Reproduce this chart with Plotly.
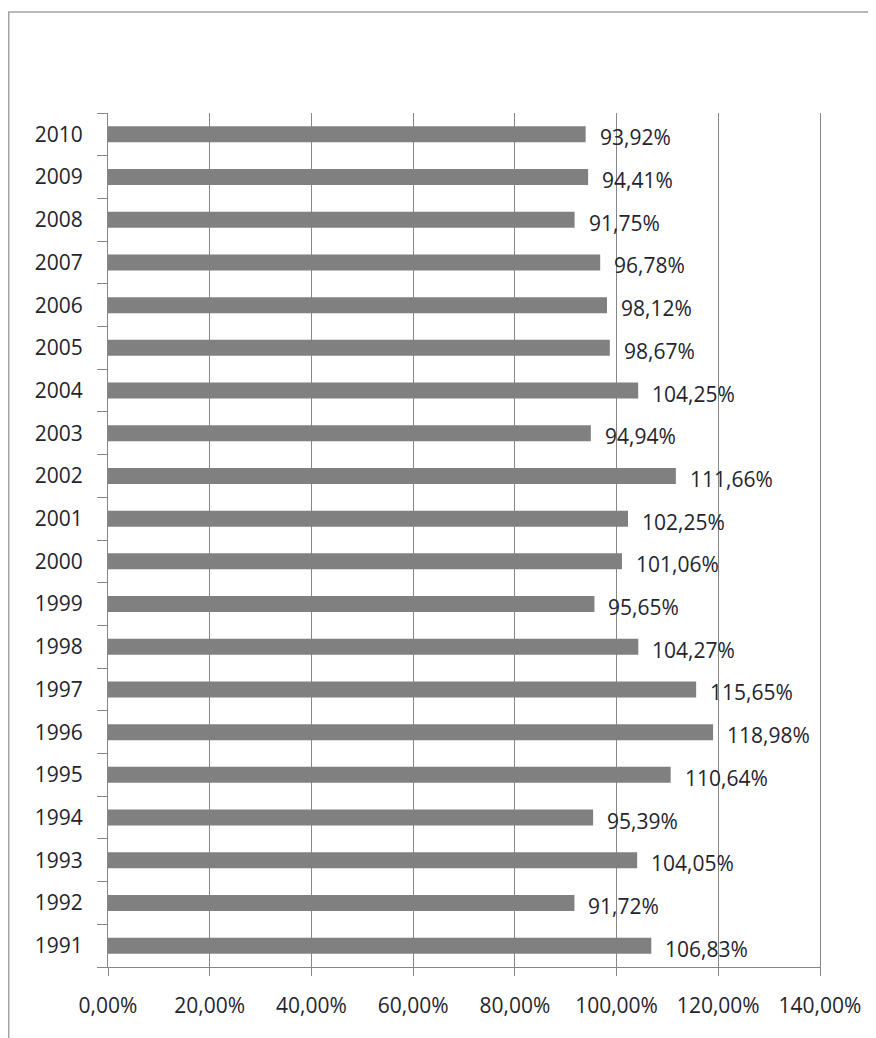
import plotly.graph_objects as go

years = [str(y) for y in range(1991, 2011)]
values = [106.83, 91.72, 104.05, 95.39, 110.64, 118.98, 115.65, 104.27, 95.65, 101.06,
          102.25, 111.66, 94.94, 104.25, 98.67, 98.12, 96.78, 91.75, 94.41, 93.92]
x_ticks = [0, 20, 40, 60, 80, 100, 120, 140]

labels = [f"{v:.2f}%".replace(".", ",") for v in values]
x_tick_text = [f"{t:.2f}%".replace(".", ",") for t in x_ticks]

FONT = "Open Sans"
FS = 21
TXT = "#24242e"
GRID = "#878787"

fig = go.Figure()
fig.add_trace(go.Bar(
    x=values, y=years, orientation="h",
    marker=dict(color="#808080", line=dict(width=0)),
    hoverinfo="skip",
))

# annotations positioned by category index on the category axis
for i, (v, lab) in enumerate(zip(values, labels)):
    fig.add_annotation(x=v, y=i, text=lab, showarrow=False, xanchor="left",
                       yanchor="middle", xshift=12, yshift=-3,
                       font=dict(family=FONT, size=FS, color=TXT))

# page body has an 8px margin, so the figure is sized/offset to compensate
fig.update_layout(
    width=868, height=1030,
    margin=dict(l=100, r=56, t=105, b=71),
    paper_bgcolor="white", plot_bgcolor="white",
    bargap=0.625,
    showlegend=False,
    font=dict(family=FONT, size=FS, color=TXT),
)
fig.update_xaxes(
    range=[0, 140], tickvals=x_ticks, ticktext=x_tick_text,
    showgrid=True, gridcolor=GRID, gridwidth=1,
    showline=True, linecolor=GRID, linewidth=1,
    ticks="outside", ticklen=8, tickcolor=GRID,
    zeroline=False, automargin=False, ticklabelstandoff=12,
    tickfont=dict(family=FONT, size=FS, color=TXT),
)
fig.update_yaxes(
    type="category", categoryorder="array", categoryarray=years,
    range=[-0.5, len(years) - 0.5],
    showgrid=False, showline=True, mirror=True, linecolor=GRID, linewidth=1,
    ticks="outside", ticklen=10, tickcolor=GRID, tickson="boundaries",
    automargin=False, ticklabelstandoff=20,
    tickfont=dict(family=FONT, size=FS, color=TXT),
)
fig.add_shape(type="rect", xref="paper", yref="paper",
              x0=-0.1394, x1=1.2, y0=-0.2, y1=1.1183,
              line=dict(color="#a3a3a3", width=1.5), fillcolor="rgba(0,0,0,0)",
              layer="below")

fig.write_html("out.html")
